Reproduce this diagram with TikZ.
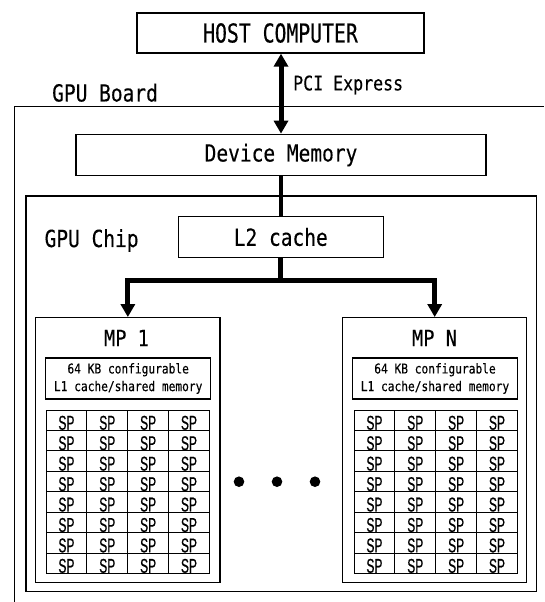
\documentclass[tikz,border=0pt]{standalone}
\usepackage{fontspec}
\usetikzlibrary{arrows.meta}
\newfontfamily\gfont[FakeStretch=0.83,FakeBold=0.3]{DejaVu Sans Mono}
\newfontfamily\hfont[FakeStretch=0.76,FakeBold=0.3]{DejaVu Sans Mono}
\newfontfamily\spfont[FakeStretch=0.6,FakeBold=0.6]{Liberation Sans}
\begin{document}
\begin{tikzpicture}[x=1pt,y=-1pt,
  box/.style={draw,line width=1.3pt,inner sep=0pt,rectangle},
  bus/.style={line width=5pt},
  tipend/.style={-{Triangle[width=14pt,length=13pt]}},
  tipboth/.style={{Triangle[width=14pt,length=13pt]}-{Triangle[width=14pt,length=13pt]}},
  lbl/.style={inner sep=0pt,font=\gfont\fontsize{23.5}{28}\selectfont},
  small/.style={inner sep=0pt,align=center,font=\gfont\fontsize{13.5}{17.6}\selectfont},
  cell/.style={draw,line width=1pt,inner sep=0pt,minimum width=40.85pt,minimum height=20.44pt,
    text height=19pt,text depth=0pt,font=\spfont\fontsize{20}{24}\selectfont}]
\useasboundingbox (0,0) rectangle (544,602);

% GPU board (extends beyond the picture)
\draw[line width=1.3pt] (14.7,602) -- (14.7,106.7) -- (544,106.7);
\node[lbl,anchor=south west] (boardlbl) at (52,102) {GPU Board};

% host
\node[box,minimum width=287pt,minimum height=40pt,font=\hfont\fontsize{26}{30}\selectfont] (host) at (280.5,33) {HOST COMPUTER};

% device memory
\node[box,minimum width=410pt,minimum height=41.4pt,lbl,draw,line width=1.3pt] (dm) at (281,155) {Device Memory};

% PCI express link
\draw[bus,tipboth] (dm.north) -- (dm.north |- host.south);
\node[inner sep=0pt,anchor=west,font=\gfont\fontsize{20}{24}\selectfont] (pci) at (293,85) {PCI Express};

% GPU chip
\node[box,minimum width=510.7pt,minimum height=395.7pt] (chip) at (281.35,393.85) {};
\node[lbl] (chiplbl) at (91.6,240.5) {GPU Chip};

% L2 cache
\node[box,minimum width=205pt,minimum height=40.6pt,lbl,draw,line width=1.3pt] (l2) at (280.8,237) {L2 cache};
\draw[line width=4pt] (dm.south) -- (dm.south |- l2.north);

% multiprocessors
\node[box,minimum width=184.3pt,minimum height=265pt] (mp1) at (127.85,450.2) {};
\node[box,minimum width=184pt,minimum height=265pt] (mpn) at (434.7,450.2) {};
\node[lbl,font=\gfont\fontsize{22.5}{27}\selectfont] (mp1lbl) at (126.5,338) {MP 1};
\node[lbl,font=\gfont\fontsize{22.5}{27}\selectfont] (mpnlbl) at (434.5,338) {MP N};

\node[box,minimum width=165pt,minimum height=41pt,small,draw,line width=1.3pt] (l1a) at (128.2,378.5) {64 KB configurable\\L1 cache/shared memory};
\node[box,minimum width=164.6pt,minimum height=41pt,small,draw,line width=1.3pt] (l1n) at (435,378.5) {64 KB configurable\\L1 cache/shared memory};

% bus from L2 to MPs
\coordinate (busy) at (0,280);
\draw[bus,tipend] (l2.south) -- (l2.south |- busy) -| (mp1.north);
\draw[bus,tipend] (l2.south) -- (l2.south |- busy) -| (mpn.north);

% SP grids
\foreach \r in {1,...,8}{
  \foreach \c in {1,...,4}{
    \node[cell] (ga-\r-\c) at ({46+40.85*(\c-0.5)},{410+20.44*(\r-0.5)}) {SP};
    \node[cell] (gn-\r-\c) at ({354+40.85*(\c-0.5)},{410+20.44*(\r-0.5)}) {SP};
  }
}

% ellipsis dots
\fill (239,481.7) circle[radius=5.3pt];
\fill (277,481.7) circle[radius=5.3pt];
\fill (315,481.7) circle[radius=5.3pt];
\end{tikzpicture}
\end{document}
